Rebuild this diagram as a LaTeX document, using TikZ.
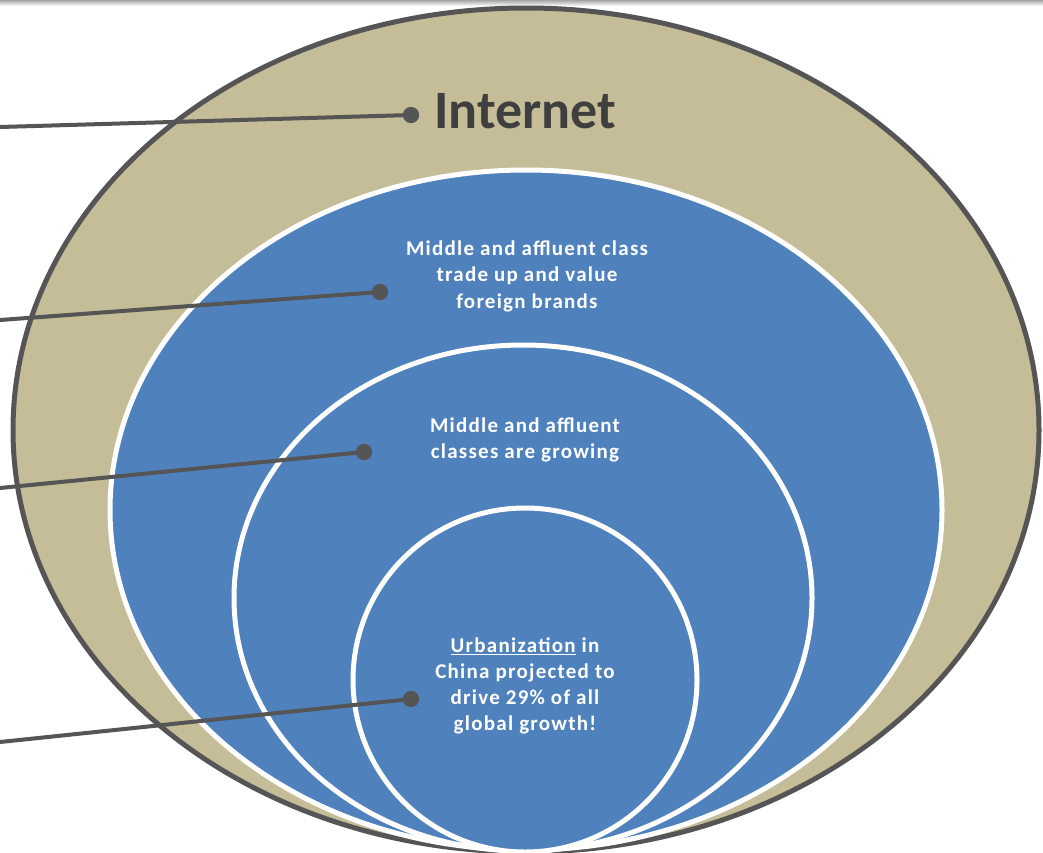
\documentclass[tikz,border=0pt]{standalone}
\usepackage{fontspec}
\setmainfont{Carlito}
\newfontfamily\bluefont[LetterSpace=6]{Carlito}
\definecolor{beige}{HTML}{C4BD97}
\definecolor{bluef}{HTML}{4F81BD}
\definecolor{darkln}{HTML}{555555}
\definecolor{inttxt}{HTML}{3F3F3F}
\tikzset{
  outerring/.style={fill=beige, draw=darkln, line width=5pt},
  bluering/.style={fill=bluef, draw=white, line width=5pt},
  conn/.style={draw=darkln, line width=4pt},
  dotn/.style={circle, fill=darkln, inner sep=0pt, minimum size=16pt},
  bluetxt/.style={text=white, font=\bluefont\bfseries\fontsize{21}{26.5}\selectfont, align=center},
}
\begin{document}
\begin{tikzpicture}[x=1pt,y=1pt]
\useasboundingbox (0,0) rectangle (1043,-852);
\clip (0,0) rectangle (1043,-852);
\fill[white] (0,0) rectangle (1043,-852);
\shade[top color=gray!70, bottom color=white] (0,0) rectangle (1043,-6);
% rings
\path[outerring] (526,-430) ellipse [x radius=513pt, y radius=422pt];
\path[bluering] (526,-510) ellipse [x radius=416pt, y radius=340pt];
\path[bluering] (523,-598) ellipse [x radius=289pt, y radius=253pt];
\path[bluering] (525,-680) ellipse [x radius=172pt, y radius=172pt];
% texts
\node[text=inttxt, font=\bfseries\fontsize{54}{60}\selectfont] (tint) at (525,-111) {Internet};
\node[bluetxt] (t2) at (527,-276) {Middle and affluent class\\trade up and value\\foreign brands};
\node[bluetxt] (t3) at (525,-440) {Middle and affluent\\classes are growing};
\node[bluetxt, font=\bluefont\bfseries\fontsize{21}{25.8}\selectfont] (t4) at (525,-686) {\underline{Urbanization} in\\China projected to\\drive 29\% of all\\global growth!};
% connectors
\coordinate (l1) at (0,-127);
\coordinate (l2) at (0,-320);
\coordinate (l3) at (0,-488);
\coordinate (l4) at (0,-742);
\node[dotn] (d1) at (411,-115) {};
\node[dotn] (d2) at (380,-292) {};
\node[dotn] (d3) at (364,-452) {};
\node[dotn] (d4) at (411,-699) {};
\draw[conn] (l1) -- (d1.center);
\draw[conn] (l2) -- (d2.center);
\draw[conn] (l3) -- (d3.center);
\draw[conn] (l4) -- (d4.center);
\node[dotn] at (d1) {};
\node[dotn] at (d2) {};
\node[dotn] at (d3) {};
\node[dotn] at (d4) {};
\end{tikzpicture}
\end{document}
